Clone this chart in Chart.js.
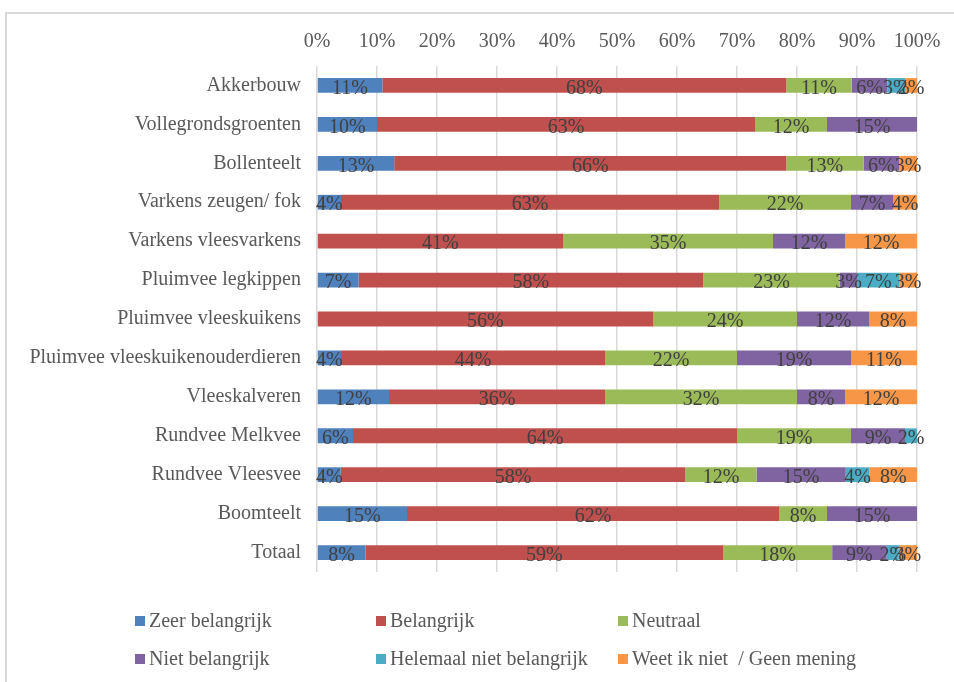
<!DOCTYPE html>
<html>
<head>
<meta charset="utf-8">
<title>Belang per sector</title>
<script src="https://cdn.jsdelivr.net/npm/chart.js@4.4.1/dist/chart.umd.min.js"></script>
<style>
  html, body { margin: 0; padding: 0; background: #fff; }
  #wrap { position: relative; width: 954px; height: 682px; overflow: hidden; }
  #frame { position: absolute; left: 5px; top: 12px; width: 1000px; height: 800px;
           border-top: 2px solid #d9d9d9; border-left: 2px solid #d9d9d9; pointer-events: none; }
</style>
</head>
<body>
<div id="wrap">
  <canvas id="my-chart" width="954" height="682"></canvas>
  <div id="frame"></div>
</div>
<script>
var categories = ['Akkerbouw', 'Vollegrondsgroenten', 'Bollenteelt', 'Varkens zeugen/ fok',
  'Varkens vleesvarkens', 'Pluimvee legkippen', 'Pluimvee vleeskuikens',
  'Pluimvee vleeskuikenouderdieren', 'Vleeskalveren', 'Rundvee Melkvee',
  'Rundvee Vleesvee', 'Boomteelt', 'Totaal'];

var seriesNames = ['Zeer belangrijk', 'Belangrijk', 'Neutraal', 'Niet belangrijk',
  'Helemaal niet belangrijk', 'Weet ik niet  / Geen mening'];

// percentages as printed on the bars
var zeerBelangrijk = [11, 10, 13, 4, 0, 7, 0, 4, 12, 6, 4, 15, 8];
var belangrijk     = [68, 63, 66, 63, 41, 58, 56, 44, 36, 64, 58, 62, 59];
var neutraal       = [11, 12, 13, 22, 35, 23, 24, 22, 32, 19, 12, 8, 18];
var nietBelangrijk = [6, 15, 6, 7, 12, 3, 12, 19, 8, 9, 15, 15, 9];
var helemaalNiet   = [3, 0, 0, 0, 0, 7, 0, 0, 0, 2, 4, 0, 2];
var weetNiet       = [2, 0, 3, 4, 12, 3, 8, 11, 12, 0, 8, 0, 3];

var xTicks = [0, 10, 20, 30, 40, 50, 60, 70, 80, 90, 100];

var colors = ['#4F81BD', '#C0504D', '#9BBB59', '#8064A2', '#4BACC6', '#F79646'];
var allSeries = [zeerBelangrijk, belangrijk, neutraal, nietBelangrijk, helemaalNiet, weetNiet];

var FONT = 'Liberation Serif';

// 100% stacked: scale every row to its total
var rowTotals = categories.map(function (c, j) {
  var s = 0;
  for (var i = 0; i < allSeries.length; i++) s += allSeries[i][j];
  return s;
});

var datasets = allSeries.map(function (vals, i) {
  return {
    label: seriesNames[i],
    data: vals.map(function (v, j) { return v / rowTotals[j] * 100; }),
    raw: vals,
    backgroundColor: colors[i],
    borderWidth: 0,
    categoryPercentage: 1,
    barPercentage: 0.38
  };
});

// labels in the middle of each segment
var barLabels = {
  id: 'barLabels',
  afterDatasetsDraw: function (chart) {
    var ctx = chart.ctx;
    ctx.save();
    ctx.font = '20px "' + FONT + '"';
    ctx.fillStyle = '#404040';
    ctx.textAlign = 'center';
    ctx.textBaseline = 'middle';
    chart.data.datasets.forEach(function (ds, i) {
      var meta = chart.getDatasetMeta(i);
      meta.data.forEach(function (bar, j) {
        var v = ds.raw[j];
        if (!v) return;
        var p = bar.getProps(['x', 'y', 'base'], true);
        ctx.fillText(v + '%', (p.x + p.base) / 2, p.y + 3);
      });
    });
    ctx.restore();
  }
};

// legend in a 3 column grid under the plot
var gridLegend = {
  id: 'gridLegend',
  afterDraw: function (chart) {
    var ctx = chart.ctx;
    var colX = [135, 376, 618];
    var rowY = [621, 659];
    ctx.save();
    ctx.font = '20px "' + FONT + '"';
    ctx.textBaseline = 'middle';
    ctx.textAlign = 'left';
    chart.data.datasets.forEach(function (ds, i) {
      var x = colX[i % 3], y = rowY[Math.floor(i / 3)];
      ctx.fillStyle = ds.backgroundColor;
      ctx.fillRect(x, y - 5, 10, 10);
      ctx.fillStyle = '#595959';
      ctx.fillText(ds.label, x + 14, y + 1);
    });
    ctx.restore();
  }
};

var ctx = document.getElementById('my-chart');
var myChart = new Chart(ctx, {
  type: 'bar',
  data: { labels: categories, datasets: datasets },
  plugins: [barLabels, gridLegend],
  options: {
    indexAxis: 'y',
    responsive: false,
    animation: false,
    layout: { padding: { left: 0, right: 37, top: 0, bottom: 110 } },
    plugins: { legend: { display: false }, tooltip: { enabled: false } },
    scales: {
      x: {
        position: 'top',
        stacked: true,
        min: 0,
        max: 100,
        afterBuildTicks: function (scale) {
          scale.ticks = xTicks.map(function (v) { return { value: v }; });
        },
        afterFit: function (scale) { scale.height = 66; },
        ticks: {
          color: '#595959',
          font: { family: FONT, size: 20 },
          padding: 12,
          maxRotation: 0,
          callback: function (v) { return v + '%'; }
        },
        grid: { color: '#d9d9d9', lineWidth: 1.5, drawTicks: false },
        border: { display: false }
      },
      y: {
        stacked: true,
        afterFit: function (scale) { scale.width = 317; },
        ticks: {
          color: '#595959',
          font: { family: FONT, size: 20 },
          padding: 16
        },
        grid: { display: false, drawTicks: false },
        border: { display: false }
      }
    }
  }
});
</script>
</body>
</html>
